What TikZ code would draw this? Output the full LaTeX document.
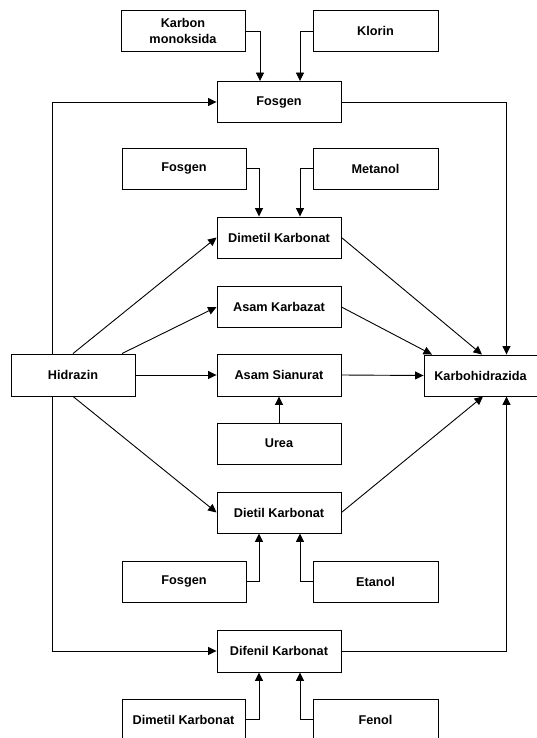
\documentclass[tikz,border=0pt]{standalone}
\usepackage{fontspec}
\setmainfont{Liberation Sans}
\usetikzlibrary{arrows.meta}
\tikzset{
  box/.style={draw=black, line width=0.9pt, fill=white, minimum width=124pt, minimum height=41pt, inner sep=0pt, align=center, font=\fontsize{12.7}{16.5}\selectfont\bfseries},
  arr/.style={line width=0.9pt, -{Triangle[length=8.5pt,width=8pt]}},
  ln/.style={line width=0.9pt}
}
\begin{document}
\begin{tikzpicture}[x=1pt,y=-1pt]
\useasboundingbox (0,0) rectangle (537,738);
\clip (0,0) rectangle (537,738);
% nodes
\node[box] (km) at (183,31) {Karbon\\monoksida};
\node[box, minimum width=125pt] (kl) at (375.5,31) {Klorin};
\node[box] (fos1) at (279,102) {Fosgen};
\node[box] (fos2) at (184,168.5) {Fosgen};
\node[box, minimum width=125pt] (met) at (375.5,168.5) {Metanol};
\node[box] (dmk) at (279,237.5) {Dimetil Karbonat};
\node[box] (akz) at (279,307) {Asam Karbazat};
\node[box, minimum height=42pt] (hid) at (73,375) {Hidrazin};
\node[box, minimum height=42pt] (asn) at (279,375) {Asam Sianurat};
\node[box, minimum width=113pt] (kh) at (480.5,375.5) {Karbohidrazida};
\node[box] (urea) at (279,443.5) {Urea};
\node[box] (dek) at (279,512.5) {Dietil Karbonat};
\node[box] (fos3) at (184,581.5) {Fosgen};
\node[box, minimum width=125pt] (eta) at (375.5,581.5) {Etanol};
\node[box, minimum height=42pt] (dfk) at (279,651) {Difenil Karbonat};
\node[box, minimum width=123pt] (dmk2) at (183.5,719.5) {Dimetil Karbonat};
\node[box, minimum width=125pt] (fen) at (375.5,719.5) {Fenol};
% connectors
\draw[arr] (km.east) -| ([xshift=-19pt]fos1.north);
\draw[arr] (kl.west) -| ([xshift=21pt]fos1.north);
\draw[arr] ([xshift=-21pt]hid.north) |- (fos1.west);
\draw[arr] ([xshift=-21pt]hid.south) |- (dfk.west);
\draw[arr] (fos1.east) -| ([xshift=26pt]kh.north);
\draw[arr] (dfk.east) -| ([xshift=26pt]kh.south);
\draw[arr] (fos2.east) -| ([xshift=-20pt]dmk.north);
\draw[arr] (met.west) -| ([xshift=21pt]dmk.north);
\draw[arr] (hid.north) -- (dmk.west);
\draw[arr] ([xshift=49pt]hid.north) -- (akz.west);
\draw[arr] (hid.east) -- (asn.west);
\draw[arr] (hid.south) -- (dek.west);
\draw[arr] (dmk.east) -- ([xshift=1.5pt]kh.north);
\draw[arr] (akz.east) -- ([xshift=-48.5pt]kh.north);
\draw[arr] (asn.east) -- (kh.west);
\draw[arr] (urea.north) -- (asn.south);
\draw[arr] (dek.east) -- ([xshift=2.5pt]kh.south);
\draw[arr] (fos3.east) -| ([xshift=-20pt]dek.south);
\draw[arr] (eta.west) -| ([xshift=21pt]dek.south);
\draw[arr] (dmk2.east) -| ([xshift=-20pt]dfk.south);
\draw[arr] (fen.west) -| ([xshift=21pt]dfk.south);
\end{tikzpicture}
\end{document}
